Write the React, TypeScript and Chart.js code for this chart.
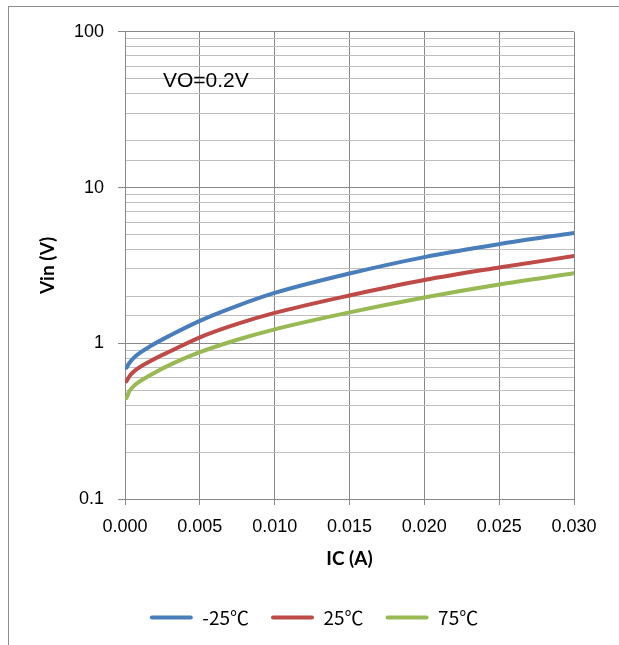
import { useRef, useEffect } from "react";
import { Chart, registerables } from "chart.js";

Chart.register(...registerables);

// collector current (A), shared by all three curves
const icValues = [0.0001, 0.0003, 0.0007, 0.0018, 0.0031, 0.005, 0.0075, 0.01, 0.015, 0.02, 0.025, 0.03];

// input voltage (V)
const vinMinus25 = [0.697, 0.75, 0.826, 0.971, 1.134, 1.393, 1.738, 2.104, 2.804, 3.575, 4.33, 5.113];
const vin25 = [0.57, 0.615, 0.672, 0.778, 0.895, 1.092, 1.332, 1.567, 2.028, 2.548, 3.063, 3.629];
const vin75 = [0.445, 0.493, 0.543, 0.633, 0.734, 0.876, 1.053, 1.229, 1.579, 1.969, 2.385, 2.812];

const seriesLabels = ["-25℃", "25℃", "75℃"];
const seriesColors = ["#4A7EBB", "#BE4B48", "#98B954"];

const annotationText = "VO=0.2V";

const MAJOR = "#898989";
const MINOR = "#bfbfbf";
const SANS = '"Liberation Sans", Arial, "Noto Sans CJK SC", sans-serif';
const LEGEND_FONT = '"Noto Sans CJK SC", "Liberation Sans", sans-serif';
const TITLE = 'Lato, "Liberation Sans", sans-serif';

const isMajor = (v: number) => {
  const l = Math.log10(v);
  return Math.abs(l - Math.round(l)) < 1e-6;
};

const annotationPlugin = {
  id: "voLabel",
  afterDatasetsDraw(chart: Chart) {
    const { ctx, chartArea } = chart;
    ctx.save();
    ctx.fillStyle = "#000";
    ctx.font = `21px ${SANS}`;
    ctx.textBaseline = "middle";
    ctx.textAlign = "left";
    ctx.fillText(annotationText, chartArea.left + 38, chartArea.top + 49);
    ctx.restore();
  },
};

const VinChart = () => {
  const chartRef = useRef<HTMLCanvasElement>(null);
  const chartInstance = useRef<Chart | null>(null);

  useEffect(() => {
    if (!chartRef.current) return;
    if (chartInstance.current) chartInstance.current.destroy();

    const ctx = chartRef.current.getContext("2d");
    if (!ctx) return;

    const series = [vinMinus25, vin25, vin75];

    chartInstance.current = new Chart(ctx, {
      type: "line",
      data: {
        datasets: series.map((vals, i) => ({
          label: seriesLabels[i],
          data: icValues.map((x, j) => ({ x, y: vals[j] })),
          borderColor: seriesColors[i],
          backgroundColor: seriesColors[i],
          borderWidth: 4,
          borderCapStyle: "round",
          borderJoinStyle: "round",
          pointRadius: 0,
          cubicInterpolationMode: "monotone",
        })),
      },
      options: {
        responsive: false,
        animation: false,
        layout: { padding: { top: 23, right: 0, bottom: 8, left: 0 } },
        plugins: {
          tooltip: { enabled: false },
          legend: {
            position: "bottom",
            labels: {
              boxWidth: 43,
              boxHeight: 4,
              padding: 22,
              color: "#000",
              font: { family: LEGEND_FONT, size: 19 },
              useBorderRadius: true,
              generateLabels: (chart: Chart) =>
                chart.data.datasets.map((ds, i) => ({
                  text: ds.label as string,
                  fillStyle: seriesColors[i],
                  strokeStyle: seriesColors[i],
                  lineWidth: 0,
                  hidden: false,
                  datasetIndex: i,
                  borderRadius: 2,
                })),
            },
          },
        },
        scales: {
          x: {
            type: "linear",
            min: 0,
            max: 0.03,
            afterFit: (scale) => {
              scale.height = 87;
            },
            ticks: {
              stepSize: 0.005,
              autoSkip: false,
              maxRotation: 0,
              padding: 11,
              color: "#000",
              font: { family: SANS, size: 18 },
              callback: (v) => Number(v).toFixed(3),
            },
            grid: { color: MAJOR, tickColor: MAJOR, tickLength: 6, lineWidth: 1 },
            border: { color: MAJOR },
            title: {
              display: true,
              text: "IC (A)",
              color: "#000",
              font: { family: TITLE, size: 19, weight: "bold" },
              padding: { top: 0, bottom: 15.6 },
            },
          },
          y: {
            type: "logarithmic",
            min: 0.1,
            max: 100,
            afterFit: (scale) => {
              scale.width = 116;
            },
            ticks: {
              autoSkip: false,
              padding: 14,
              color: "#000",
              font: { family: SANS, size: 18 },
              callback: (v) => (isMajor(Number(v)) ? String(Number(Number(v).toPrecision(3))) : ""),
            },
            grid: {
              color: (c) => (isMajor(c.tick.value) ? MAJOR : MINOR),
              tickColor: (c) => (isMajor(c.tick.value) ? MAJOR : "rgba(0,0,0,0)"),
              tickLength: 7,
              lineWidth: 1,
            },
            border: { color: MAJOR },
            title: {
              display: true,
              text: "Vin (V)",
              color: "#000",
              font: { family: TITLE, size: 19, weight: "bold" },
              padding: { top: 27.6, bottom: 0 },
            },
          },
          // empty right-hand gutter so the legend centres on the full width
          gutter: {
            type: "linear",
            position: "right",
            display: true,
            grid: { display: false },
            ticks: { display: false },
            border: { display: false },
            afterFit: (scale) => {
              scale.width = 45;
            },
          },
        },
      },
      plugins: [annotationPlugin],
    });

    return () => {
      if (chartInstance.current) {
        chartInstance.current.destroy();
        chartInstance.current = null;
      }
    };
  }, []);

  return (
    <div
      style={{
        position: "fixed",
        left: 8,
        top: 6,
        width: 611,
        height: 639,
        boxSizing: "border-box",
        borderTop: "1px solid #8c8c8c",
        borderLeft: "1px solid #8c8c8c",
        background: "#fff",
      }}
    >
      <canvas
        ref={chartRef}
        width={610}
        height={638}
        style={{ display: "block", width: 610, height: 638 }}
        aria-label="Vin versus IC chart"
        role="img"
      ></canvas>
    </div>
  );
};

export default function App() {
  return <VinChart />;
}
